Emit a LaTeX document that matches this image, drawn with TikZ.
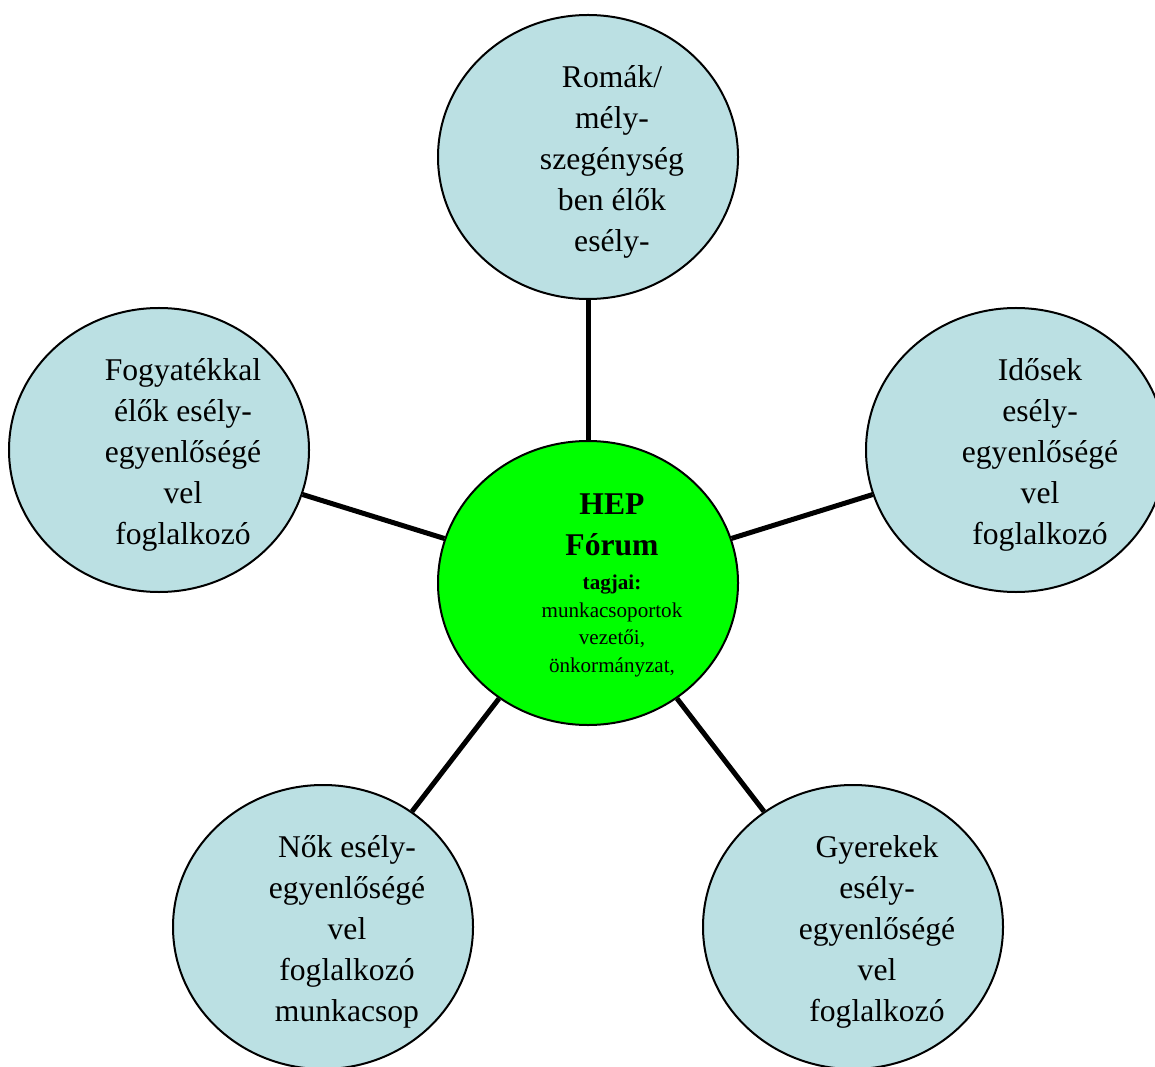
\documentclass[tikz,border=0pt]{standalone}
\usepackage{fontspec}
\setmainfont{Liberation Serif}
\usetikzlibrary{shapes.geometric}
\definecolor{paleblue}{HTML}{BBE0E3}
\definecolor{hepgreen}{HTML}{00FF00}

\begin{document}
\begin{tikzpicture}[x=0.2mm, y=-0.2mm,
  bubble/.style={ellipse, draw, fill=paleblue, line width=0.4mm,
    minimum width=6cm, minimum height=5.68cm, inner sep=0pt},
  hub/.style={bubble, fill=hepgreen},
  spoke/.style={line width=1mm},
  bubbletext/.style={align=center, font=\fontsize{18}{23.3}\selectfont},
  hubtext/.style={align=center, font=\fontsize{12}{15.6}\selectfont}]
\useasboundingbox (0,0) rectangle (1155,1067);
% circles
\node[hub] (forum) at (588,583) {};
\node[bubble] (roma) at (588,157) {};
\node[bubble] (fogy) at (159,450) {};
\node[bubble] (idos) at (1016,450) {};
\node[bubble] (nok) at (323,927) {};
\node[bubble] (gyer) at (853,927) {};
% spokes
\foreach \n in {roma,fogy,idos,nok,gyer}
  \draw[spoke] (forum) -- (\n);
% texts
\node[hubtext] (forum-t) at ([xshift=4.8mm,yshift=-0.4mm]forum.center)
  {{\fontsize{18}{23.3}\selectfont\bfseries HEP}\\[8pt]
   {\fontsize{18}{23.3}\selectfont\bfseries Fórum}\\[4pt]
   \textbf{tagjai:}\\munkacsoportok\\vezetői,\\önkormányzat,};
\node[bubbletext] (roma-t) at ([xshift=4.8mm,yshift=-1mm]roma.center)
  {Romák/\\mély-\\szegénység\\ben élők\\esély-};
\node[bubbletext] (fogy-t) at ([xshift=4.8mm,yshift=-1mm]fogy.center)
  {Fogyatékkal\\élők esély-\\egyenlőségé\\vel\\foglalkozó};
\node[bubbletext] (idos-t) at ([xshift=4.8mm,yshift=-1mm]idos.center)
  {Idősek\\esély-\\egyenlőségé\\vel\\foglalkozó};
\node[bubbletext] (nok-t) at ([xshift=4.8mm,yshift=-1mm]nok.center)
  {Nők esély-\\egyenlőségé\\vel\\foglalkozó\\munkacsop};
\node[bubbletext] (gyer-t) at ([xshift=4.8mm,yshift=-1mm]gyer.center)
  {Gyerekek\\esély-\\egyenlőségé\\vel\\foglalkozó};
\end{tikzpicture}
\end{document}
